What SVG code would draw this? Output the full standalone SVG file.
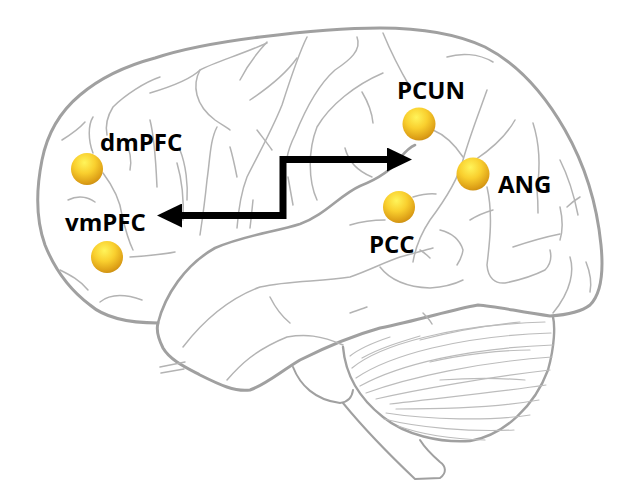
<svg xmlns="http://www.w3.org/2000/svg" width="625" height="498" viewBox="0 0 625 498">
<defs>
<radialGradient id="ball" cx="0.42" cy="0.3" r="0.75">
<stop offset="0" stop-color="#fff45a"/>
<stop offset="0.45" stop-color="#f9cf2e"/>
<stop offset="0.85" stop-color="#dc9e16"/>
<stop offset="1" stop-color="#c48a12"/>
</radialGradient>
<marker id="ah" viewBox="0 0 25 24" refX="0" refY="12" markerWidth="25" markerHeight="24" markerUnits="userSpaceOnUse" orient="auto-start-reverse">
<path d="M0,0 L25,12 L0,24 Z" fill="#000"/>
</marker>
</defs>
<style>
.outer{fill:none;stroke:#a0a0a0;stroke-width:3;stroke-linejoin:round;stroke-linecap:round}
.sulc{fill:none;stroke:#b3b3b3;stroke-width:1.5;stroke-linecap:round}
.fol{fill:none;stroke:#bcbcbc;stroke-width:1.2;stroke-linecap:round}
.lbl{font-family:"Open Sans","Liberation Sans",sans-serif;font-weight:bold;font-size:24px;fill:#000}
.node circle{fill:url(#ball)}
.conn{fill:none;stroke:#000;stroke-width:7}
</style>
<rect width="625" height="498" fill="#fff"/>
<g id="brain">
<path class="outer" d="M158,323 C130,323 105,318 90,305 C70,290 55,270 45,245 C36,220 36,190 42,160 C48,130 62,110 80,95 C100,78 125,66 155,58 C185,48 220,42 260,37 C300,32 340,28 380,28 C420,28 455,33 485,47 C520,65 545,95 565,130 C585,165 597,205 601,245 C604,275 600,295 590,305 C580,313 565,315 550,316 C520,312 495,306 478,305 C450,310 420,320 380,328 C355,335 330,345 300,360 C280,372 265,385 250,390 C235,392 220,385 200,375 C185,367 170,360 163,348 C158,338 156,330 158,323 Z"/>
<path class="outer" style="stroke-width:2.6" d="M158,323 C165,295 185,265 215,248 C245,235 275,232 300,224 C325,215 340,195 360,186 C380,178 392,170 400,158 C405,152 410,147 415,145"/>
<path class="outer" style="stroke-width:2.4" d="M343,347 C345,370 355,395 383,417 C405,435 440,443 470,441 C505,435 535,405 548,370 C555,345 555,325 553,317"/>
<path class="outer" style="stroke-width:2" d="M293,367 C300,385 315,400 340,403 C348,402 352,398 353,390"/>
<path class="outer" style="stroke-width:2" d="M343,403 C365,430 395,460 415,479 L440,478 C447,473 446,466 440,462 C432,455 425,448 420,440"/>
<path class="fol" d="M352,368 C380,345 450,325 545,322"/>
<path class="fol" d="M356,378 C390,355 460,336 551,333"/>
<path class="fol" d="M360,386 C400,364 470,348 553,345"/>
<path class="fol" d="M366,393 C410,377 480,362 552,357"/>
<path class="fol" d="M376,399 C420,389 490,377 550,370"/>
<path class="fol" d="M390,404 C430,399 500,392 546,385"/>
<path class="fol" d="M396,409 C440,409 500,407 539,400"/>
<path class="fol" d="M386,413 C430,420 490,421 530,415"/>
<path class="fol" d="M384,419 C420,428 470,432 514,430"/>
<path class="fol" d="M398,426 C420,434 450,439 485,440"/>
<path class="fol" d="M350,356 C360,348 372,343 390,337"/>
<path class="fol" d="M362,358 C380,348 400,342 420,336"/>
<path class="fol" d="M420,340 C450,332 480,326 520,322"/>
<path class="fol" d="M430,362 C460,355 500,350 530,350"/>
<path class="fol" d="M440,380 C470,378 500,378 525,380"/>
<path class="sulc" d="M150,93 C170,87 190,80 200,70 C215,62 240,55 267,43"/>
<path class="sulc" d="M200,70 C192,85 195,105 215,120 C222,125 227,127 230,130"/>
<path class="sulc" d="M217,127 C210,140 210,160 207,180 C205,200 203,215 200,235"/>
<path class="sulc" d="M307,37 C298,55 290,80 282,105 C272,130 258,155 247,177 C240,195 238,215 237,228"/>
<path class="sulc" d="M357,37 C362,50 350,60 335,70 C318,85 305,110 295,135 C290,145 288,152 287,158"/>
<path class="sulc" d="M383,73 C355,85 330,105 317,127 C308,150 308,180 317,200"/>
<path class="sulc" d="M267,42 C255,55 245,70 240,80"/>
<path class="sulc" d="M297,58 C285,75 265,90 250,100"/>
<path class="sulc" d="M160,77 C145,82 125,95 113,107 C108,115 105,125 107,135"/>
<path class="sulc" d="M93,117 C88,125 88,140 93,153"/>
<path class="sulc" d="M150,120 C155,140 156,165 157,187"/>
<path class="sulc" d="M180,150 C186,165 188,185 187,200"/>
<path class="sulc" d="M103,173 C112,185 120,200 122,215 C125,228 128,240 133,250"/>
<path class="sulc" d="M68,200 C78,195 88,197 95,202"/>
<path class="sulc" d="M130,257 C145,256 160,255 175,252"/>
<path class="sulc" d="M100,302 C110,294 125,294 142,300"/>
<path class="sulc" d="M230,147 C233,157 235,167 237,177"/>
<path class="sulc" d="M257,130 C263,138 268,144 272,150"/>
<path class="sulc" d="M177,163 C182,180 184,200 183,220"/>
<path class="sulc" d="M253,200 C252,210 251,220 250,228"/>
<path class="sulc" d="M62,140 C70,135 78,130 85,122"/>
<path class="sulc" d="M125,140 C130,150 132,160 130,170"/>
<path class="sulc" d="M60,270 C70,275 80,280 88,290"/>
<path class="sulc" d="M383,33 C390,50 400,70 410,87"/>
<path class="sulc" d="M433,130 C445,135 455,145 463,157"/>
<path class="sulc" d="M487,90 C480,110 470,135 463,160 C458,180 445,200 430,220 C420,235 415,250 413,262"/>
<path class="sulc" d="M475,160 C490,150 505,138 515,120"/>
<path class="sulc" d="M533,123 C540,145 540,170 537,190"/>
<path class="sulc" d="M447,57 C460,53 478,53 493,62"/>
<path class="sulc" d="M345,148 C348,160 355,170 372,177"/>
<path class="sulc" d="M362,92 C368,102 372,112 373,123"/>
<path class="sulc" d="M288,177 L293,205"/>
<path class="sulc" d="M350,225 C360,222 372,220 385,220"/>
<path class="sulc" d="M413,197 C420,195 428,193 436,194"/>
<path class="sulc" d="M487,187 C493,213 490,240 487,265 C488,278 495,284 505,283 C520,280 535,275 545,270 C550,265 552,258 550,250"/>
<path class="sulc" d="M513,247 C525,243 540,238 560,234"/>
<path class="sulc" d="M560,207 C563,220 563,230 560,240"/>
<path class="sulc" d="M537,190 C538,200 538,207 538,213"/>
<path class="sulc" d="M567,207 C571,203 575,200 580,197"/>
<path class="sulc" d="M570,257 C574,270 572,290 553,313"/>
<path class="sulc" d="M470,220 C478,215 486,212 493,210"/>
<path class="sulc" d="M440,230 C452,233 460,240 463,250 C462,257 459,262 457,265"/>
<path class="sulc" d="M420,250 C425,253 428,256 430,258"/>
<path class="sulc" d="M560,160 C570,180 575,200 578,215"/>
<path class="sulc" d="M586,262 C590,272 592,282 590,292"/>
<path class="sulc" d="M183,347 C200,325 225,300 260,287 C290,280 320,282 350,277 C370,270 385,262 400,257 C415,253 425,250 433,248"/>
<path class="sulc" d="M227,380 C240,365 255,350 287,337 C305,334 320,335 343,345"/>
<path class="sulc" d="M270,297 C274,305 280,315 290,323"/>
<path class="sulc" d="M350,313 C355,311 362,309 367,307"/>
<path class="sulc" d="M380,267 C390,280 405,287 430,288 C445,287 455,284 463,280"/>
<path class="sulc" d="M423,313 C427,317 430,320 432,324"/>
<path class="sulc" d="M160,367 L185,362"/>
<path class="sulc" d="M161,373 L184,369"/>
</g>
<g id="connectors">
<path class="conn" d="M182,215.5 H283 V159.5 H387" marker-start="url(#ah)" marker-end="url(#ah)"/>
</g>
<g id="dmPFC" class="node"><circle cx="87" cy="169" r="16"/><text class="lbl" x="100" y="151">dmPFC</text></g>
<g id="vmPFC" class="node"><circle cx="107" cy="257" r="16"/><text class="lbl" x="65" y="231">vmPFC</text></g>
<g id="PCUN" class="node"><circle cx="419" cy="124" r="16.5"/><text class="lbl" x="397" y="99">PCUN</text></g>
<g id="ANG" class="node"><circle cx="473" cy="174" r="16.5"/><text class="lbl" x="498" y="193">ANG</text></g>
<g id="PCC" class="node"><circle cx="399" cy="207" r="16"/><text class="lbl" x="369" y="253">PCC</text></g>
</svg>
